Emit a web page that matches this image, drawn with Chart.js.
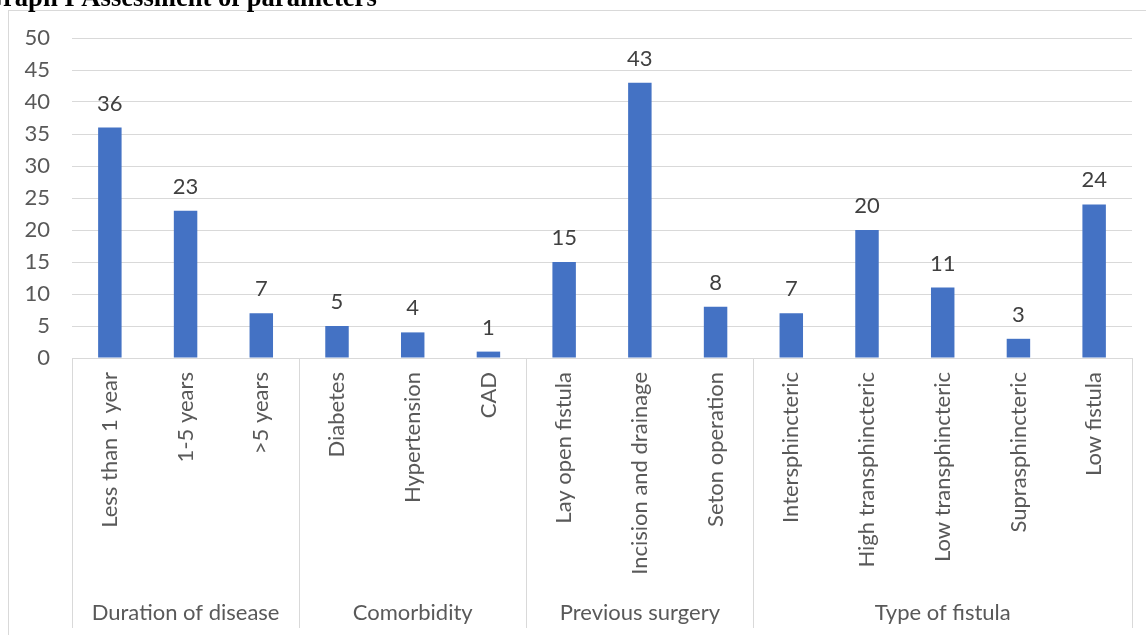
<!DOCTYPE html>
<html>
<head>
<meta charset="utf-8">
<script src="https://cdn.jsdelivr.net/npm/chart.js@4.4.1/dist/chart.umd.min.js"></script>
<style>
  html, body { margin: 0; padding: 0; background: #fff; overflow: hidden; }
  #wrap { position: relative; width: 1146px; height: 635px; }
</style>
</head>
<body>
<div id="wrap"><canvas id="chart" width="1146" height="635"></canvas></div>
<script>
const titleText = 'Graph I Assessment of parameters';

const categories = [
  'Less than 1 year', '1-5 years', '>5 years',
  'Diabetes', 'Hypertension', 'CAD',
  'Lay open fistula', 'Incision and drainage', 'Seton operation',
  'Intersphincteric', 'High transphincteric', 'Low transphincteric', 'Suprasphincteric', 'Low fistula'
];
const groups = ['Duration of disease', 'Comorbidity', 'Previous surgery', 'Type of fistula'];
const groupSizes = [3, 3, 3, 5];
const values = [36, 23, 7, 5, 4, 1, 15, 43, 8, 7, 20, 11, 3, 24];
const yMin = 0, yMax = 50, yStep = 5;

const FONT = 'Lato, "Open Sans", sans-serif';
const TEXT = '#595959';
const LINE = '#d9d9d9';

const extras = {
  id: 'extras',
  beforeDraw(chart) {
    const ctx = chart.ctx;
    ctx.save();
    ctx.strokeStyle = LINE;
    ctx.lineWidth = 1;
    ctx.strokeRect(8.5, 10.5, 2000, 2000);
    ctx.restore();
  },
  afterDraw(chart) {
    const ctx = chart.ctx;
    const xs = chart.scales.x;
    const area = chart.chartArea;
    ctx.save();

    // title, clipped at the top-left like the original
    ctx.font = 'bold 26.6px "Liberation Serif", "DejaVu Serif", serif';
    ctx.fillStyle = '#000';
    ctx.textBaseline = 'alphabetic';
    ctx.textAlign = 'left';
    ctx.fillText(titleText, 3 - ctx.measureText('G').width, 6);

    // value labels over bars
    ctx.font = '22px ' + FONT;
    ctx.fillStyle = '#404040';
    ctx.textAlign = 'center';
    chart.getDatasetMeta(0).data.forEach((bar, i) => {
      ctx.fillText(String(values[i]), bar.x, bar.y - 17);
    });

    // group separators and group labels
    const half = (xs.getPixelForValue(1) - xs.getPixelForValue(0)) / 2;
    let start = 0;
    const edges = [xs.getPixelForValue(0) - half];
    groupSizes.forEach((n, g) => {
      const end = start + n - 1;
      edges.push(xs.getPixelForValue(end) + half);
      const mid = (xs.getPixelForValue(start) + xs.getPixelForValue(end)) / 2;
      ctx.fillStyle = TEXT;
      ctx.fillText(groups[g], mid, 620);
      start += n;
    });
    ctx.strokeStyle = LINE;
    ctx.lineWidth = 1;
    edges.forEach(x => {
      const px = Math.round(x) + 0.5;
      ctx.beginPath();
      ctx.moveTo(px, area.bottom);
      ctx.lineTo(px, 628);
      ctx.stroke();
    });
    ctx.restore();
  }
};

new Chart(document.getElementById('chart'), {
  type: 'bar',
  data: {
    labels: categories,
    datasets: [{
      data: values,
      backgroundColor: '#4472c4',
      borderWidth: 0,
      barPercentage: 0.31,
      categoryPercentage: 1
    }]
  },
  options: {
    responsive: false,
    animation: false,
    devicePixelRatio: 1,
    layout: { padding: { top: 38, right: 14, bottom: 0, left: 0 } },
    plugins: { legend: { display: false }, tooltip: { enabled: false }, title: { display: false } },
    scales: {
      x: {
        afterFit(scale) { scale.height = 277; },
        grid: { display: false, drawTicks: false },
        border: { display: true, color: LINE, width: 1 },
        ticks: {
          color: TEXT,
          font: { family: FONT, size: 22 },
          autoSkip: false,
          maxRotation: 90,
          minRotation: 90,
          padding: 14
        }
      },
      y: {
        min: yMin,
        max: yMax,
        afterFit(scale) { scale.width = 72; },
        grid: { color: LINE, lineWidth: 1, drawTicks: false },
        border: { display: false },
        ticks: {
          stepSize: yStep,
          color: TEXT,
          font: { family: FONT, size: 22 },
          padding: 22
        }
      }
    }
  },
  plugins: [extras]
});
</script>
</body>
</html>
